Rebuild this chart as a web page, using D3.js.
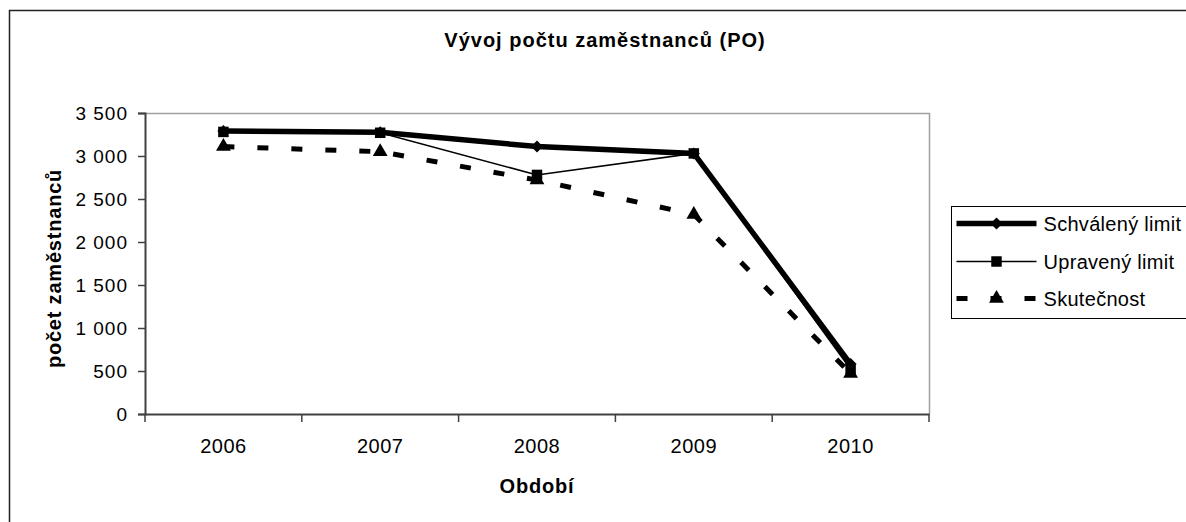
<!DOCTYPE html>
<html>
<head>
<meta charset="utf-8">
<script src="https://cdn.jsdelivr.net/npm/d3@7"></script>
<style>
  body { margin: 0; background: #fff; }
  text { font-family: "Liberation Sans", Arial, sans-serif; fill: #000; }
</style>
</head>
<body>
<div id="chart"></div>
<script>
// data
const years = ["2006", "2007", "2008", "2009", "2010"];
const schvaleny = [3290, 3275, 3110, 3030, 580];
const upraveny = [3280, 3270, 2780, 3030, 520];
const skutecnost = [3110, 3050, 2720, 2320, 470];
const yTicks = [0, 500, 1000, 1500, 2000, 2500, 3000, 3500];
const seriesNames = ["Schválený limit", "Upravený limit", "Skutečnost"];

var W = 1186, H = 522;
var margin = { top: 113, left: 145 },
    width = 929 - 145,
    height = 414 - 113;

var svg = d3.select("#chart").append("svg")
    .attr("width", W).attr("height", H);

// outer chart frame (runs off the page on right/bottom)
svg.append("rect")
    .attr("x", 9.5).attr("y", 10.5)
    .attr("width", 1300).attr("height", 600)
    .attr("fill", "none").attr("stroke", "#222").attr("stroke-width", 1.5);

var g = svg.append("g")
    .attr("transform", "translate(" + margin.left + "," + margin.top + ")");

var x = d3.scaleBand().domain(years).range([0, width]).padding(0);
var y = d3.scaleLinear().domain([0, 3500]).range([height, 0]);

// plot area border (top, right)
g.append("path")
    .attr("d", "M0,0.5H" + (width + 0.5) + "V" + height)
    .attr("fill", "none").attr("stroke", "#a0a0a0").attr("stroke-width", 1.5);

// y axis
var fmt = d3.format(",");
var yAxis = g.append("g")
    .call(d3.axisLeft(y).tickValues(yTicks).tickSize(7).tickPadding(10)
        .tickFormat(function (d) { return fmt(d).replace(/,/g, " "); }));
yAxis.select(".domain").attr("stroke", "#404040").attr("stroke-width", 2);
yAxis.selectAll(".tick line").attr("stroke", "#404040").attr("stroke-width", 1.5);
yAxis.selectAll(".tick text")
    .style("font-size", "19px").style("letter-spacing", "1px")
    .attr("font-family", null).attr("fill", "#000");

// x axis: labels centred, ticks at band edges
var xAxis = g.append("g")
    .attr("transform", "translate(0," + height + ")")
    .call(d3.axisBottom(x).tickSize(0).tickPadding(25));
xAxis.select(".domain").attr("stroke", "#404040").attr("stroke-width", 2);
xAxis.selectAll(".tick text")
    .style("font-size", "20px").style("letter-spacing", "0.5px")
    .attr("font-family", null).attr("fill", "#000");
var edges = years.map(function (d) { return x(d); }).concat([width]);
xAxis.selectAll("line.edge")
    .data(edges).enter().append("line")
    .attr("class", "edge")
    .attr("x1", function (d) { return d; }).attr("x2", function (d) { return d; })
    .attr("y1", 0).attr("y2", 8)
    .attr("stroke", "#404040").attr("stroke-width", 1.5);

// titles
svg.append("text")
    .attr("x", 605).attr("y", 47)
    .attr("text-anchor", "middle")
    .style("font-size", "20px").style("font-weight", "bold").style("letter-spacing", "1px")
    .text("Vývoj počtu zaměstnanců (PO)");

svg.append("text")
    .attr("transform", "translate(61," + (margin.top + height / 2 + 5) + ") rotate(-90)")
    .attr("text-anchor", "middle")
    .style("font-size", "20px").style("font-weight", "bold").style("letter-spacing", "0.8px")
    .text("počet zaměstnanců");

svg.append("text")
    .attr("x", margin.left + width / 2).attr("y", 493)
    .attr("text-anchor", "middle")
    .style("font-size", "20px").style("font-weight", "bold").style("letter-spacing", "0.8px")
    .text("Období");

// series
var cx = function (i) { return x(years[i]) + x.bandwidth() / 2; };
var line = d3.line()
    .x(function (d, i) { return cx(i); })
    .y(function (d) { return y(d); });

var series = [
    { name: seriesNames[0], values: schvaleny, width: 5.5, dash: null,
      symbol: d3.symbol().type(d3.symbolSquare).size(72), rotate: 45 },
    { name: seriesNames[1], values: upraveny, width: 1.5, dash: null,
      symbol: d3.symbol().type(d3.symbolSquare).size(110), rotate: 0 },
    { name: seriesNames[2], values: skutecnost, width: 5, dash: "11,23",
      symbol: d3.symbol().type(d3.symbolTriangle).size(95), rotate: 0 }
];

// draw actual first so limits sit on top
[2, 0, 1].forEach(function (k) {
    var s = series[k];
    g.append("path")
        .datum(s.values)
        .attr("d", line)
        .attr("fill", "none")
        .attr("stroke", "#000")
        .attr("stroke-width", s.width)
        .attr("stroke-dasharray", s.dash);
    g.selectAll("path.m" + k)
        .data(s.values).enter().append("path")
        .attr("class", "m" + k)
        .attr("d", s.symbol)
        .attr("transform", function (d, i) {
            return "translate(" + cx(i) + "," + y(d) + ") rotate(" + s.rotate + ")";
        })
        .attr("fill", "#000");
});

// legend
var lg = svg.append("g").attr("transform", "translate(951.5,206.5)");
lg.append("rect")
    .attr("width", 300).attr("height", 112)
    .attr("fill", "#fff").attr("stroke", "#000").attr("stroke-width", 1);
var rowY = [17, 55, 92];
series.forEach(function (s, k) {
    var r = lg.append("g").attr("transform", "translate(0," + rowY[k] + ")");
    r.append("line")
        .attr("x1", 5).attr("x2", 85).attr("y1", 0).attr("y2", 0)
        .attr("stroke", "#000").attr("stroke-width", s.width)
        .attr("stroke-dasharray", s.dash);
    r.append("path")
        .attr("d", s.symbol)
        .attr("transform", "translate(45,0) rotate(" + s.rotate + ")")
        .attr("fill", "#000");
    r.append("text")
        .attr("x", 92).attr("dy", "0.35em")
        .style("font-size", "20px").style("letter-spacing", "0.3px")
        .text(s.name);
});
</script>
</body>
</html>
